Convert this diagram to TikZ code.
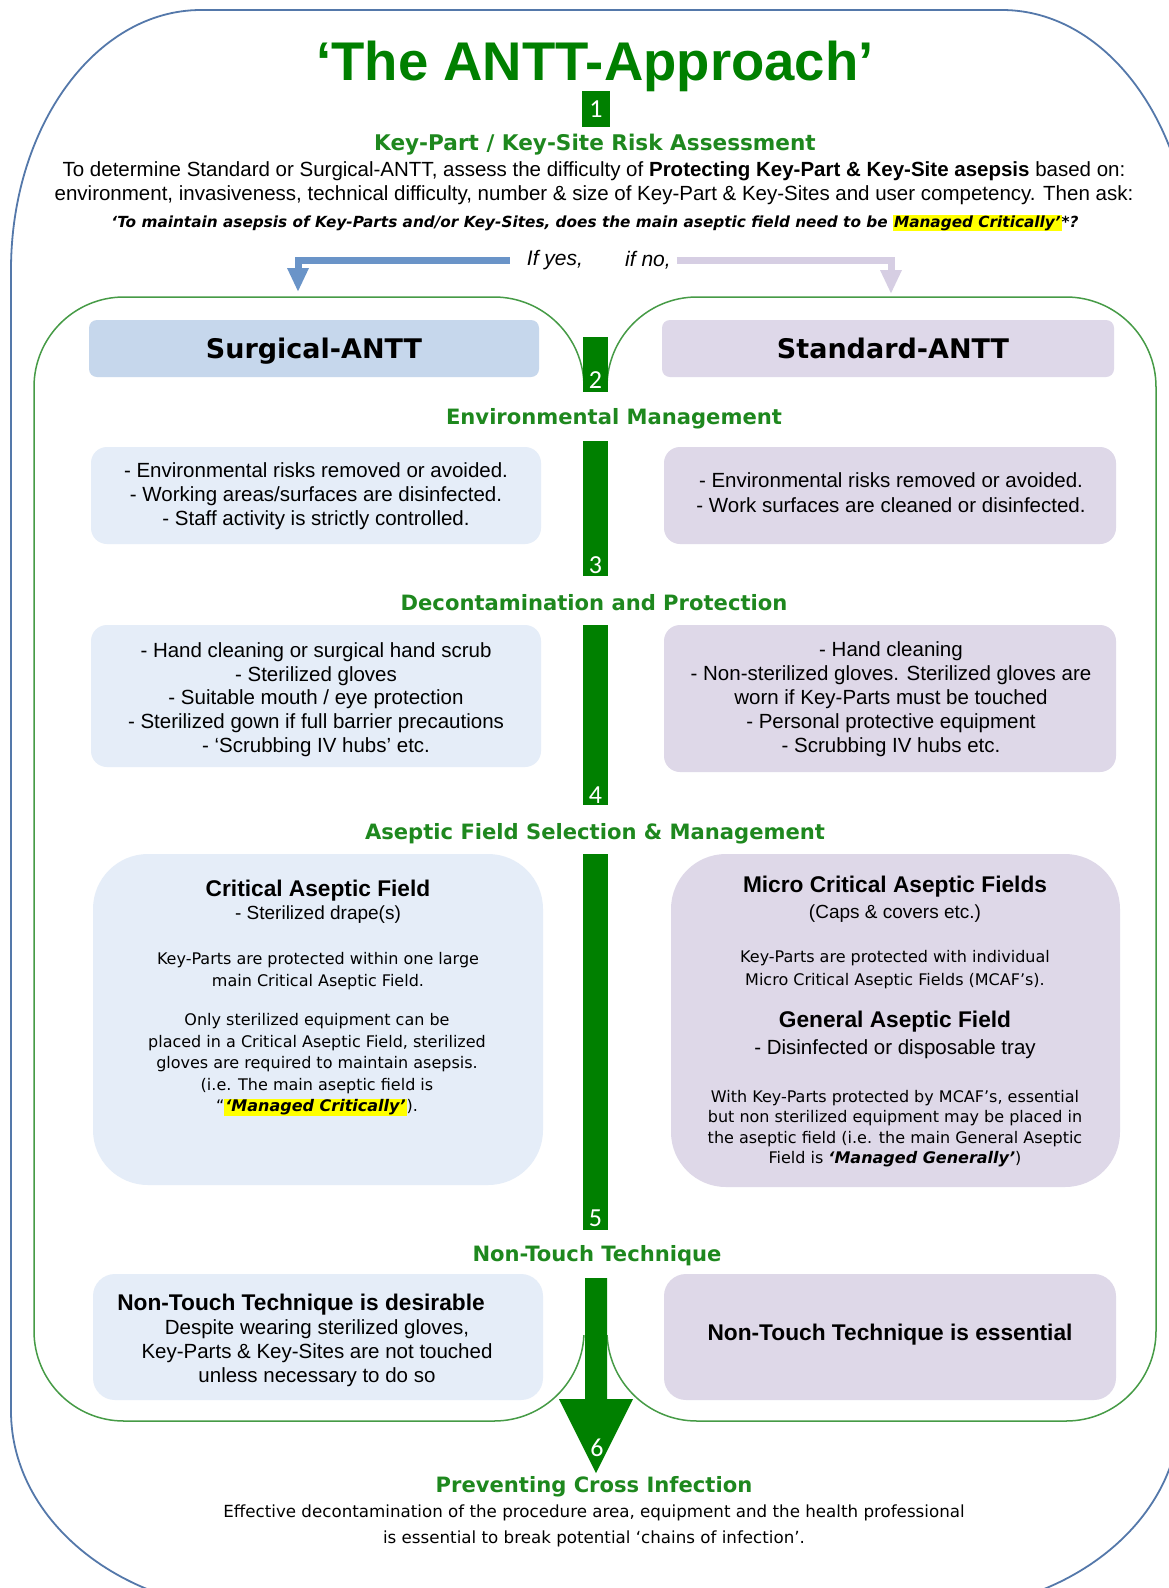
\documentclass[tikz,border=0pt]{standalone}
\usepackage{fontspec}
\setmainfont{Liberation Sans}
\newfontfamily\verd{DejaVu Sans}
\newfontfamily\cali{Carlito}
\usetikzlibrary{arrows.meta}
\definecolor{titlegreen}{RGB}{0,128,0}
\definecolor{headgreen}{RGB}{30,136,30}
\definecolor{bargreen}{RGB}{0,128,0}
\definecolor{outerblue}{RGB}{84,120,170}
\definecolor{panelgreen}{RGB}{70,155,70}
\definecolor{hdrL}{RGB}{198,215,236}
\definecolor{hdrR}{RGB}{222,216,233}
\definecolor{boxL}{RGB}{229,237,248}
\definecolor{boxR}{RGB}{222,216,232}
\definecolor{yesblue}{RGB}{106,148,200}
\definecolor{nolav}{RGB}{214,206,227}
\definecolor{hly}{RGB}{255,255,0}
\newcommand\hilite[1]{{\setlength{\fboxsep}{1pt}\colorbox{hly}{#1}}}
\tikzset{
  heading/.style={font=\verd\bfseries\fontsize{21.1}{24}\selectfont, text=headgreen, inner sep=0pt},
  body/.style={font=\fontsize{20.5}{24}\selectfont, align=center, inner sep=0pt},
  smalltxt/.style={font=\verd\fontsize{16}{21.5}\selectfont, align=center, inner sep=0pt},
  boxtitle/.style={font=\bfseries\fontsize{22.7}{26}\selectfont, inner sep=0pt},
  hdrtxt/.style={font=\verd\bfseries\fontsize{27}{27}\selectfont, inner sep=0pt},
  lbox/.style={fill=boxL, rounded corners=16, inner sep=0pt},
  rbox/.style={fill=boxR, rounded corners=16, inner sep=0pt},
  barseg/.style={fill=bargreen, minimum width=25, inner sep=0pt},
  numlbl/.style={font=\cali\fontsize{26}{26}\selectfont, text=white, inner sep=0pt},
  panel/.style={draw=panelgreen, line width=1.5, rounded corners=90},
}
\begin{document}
\begin{tikzpicture}[x=1pt,y=-1pt]
\useasboundingbox (0,0) rectangle (1169,1588);
\fill[white] (0,0) rectangle (1169,1588);
% outer frame
\draw[outerblue, line width=1.8] (11,1411) -- (11,270) .. controls (11,126) and (96,10) .. (201,10) -- (1002,10) .. controls (1107,10) and (1192,126) .. (1192,270) -- (1180,1411) .. controls (1180,1521.5) and (1068,1611) .. (930,1611) -- (261,1611) .. controls (123,1611) and (11,1521.5) .. (11,1411) -- cycle;
% panels
\draw[panel] (34,297) rectangle (584,1421);
\draw[panel] (607,297) rectangle (1156,1421);
\fill[white] (581,385) rectangle (610,1335);
% title and step 1
\node[font=\bfseries\fontsize{54.5}{54}\selectfont, text=titlegreen, inner sep=0pt] (title) at (595,66) {‘The ANTT-Approach’};
\node[fill=bargreen, minimum width=28, minimum height=36, inner sep=0pt, font=\cali\fontsize{26}{26}\selectfont, text=white] (n1) at (596,109) {1};
\node[heading, font=\verd\bfseries\fontsize{21.6}{24}\selectfont] (hKey) at (595,145) {Key-Part / Key-Site Risk Assessment};
\node[body] (intro) at (594,183) {To determine Standard or Surgical-ANTT, assess the difficulty of \textbf{Protecting Key-Part \& Key-Site asepsis} based on:\\ environment, invasiveness, technical difficulty, number \& size of Key-Part \& Key-Sites and user competency. Then ask:};
\node[font=\verd\bfseries\itshape\fontsize{15.3}{17}\selectfont, inner sep=0pt] (quest) at (595,223) {‘To maintain asepsis of Key-Parts and/or Key-Sites, does the main aseptic field need to be \hilite{Managed Critically’}*?};
% yes / no
\node[font=\itshape\fontsize{21}{21}\selectfont, inner sep=0pt] (yes) at (555,260) {If yes,};
\node[font=\itshape\fontsize{21}{21}\selectfont, inner sep=0pt] (no) at (648,260) {if no,};
\coordinate (yesend) at (298,292);
\coordinate (noend) at (891,294);
\draw[yesblue, line width=7, -{Triangle[width=20pt 0, length=24pt 0]}] ([xshift=-17pt]yes.west) -| (yesend);
\draw[nolav, line width=7, -{Triangle[width=20pt 0, length=24pt 0]}] ([xshift=6pt]no.east) -| (noend);
% headers
\node[fill=hdrL, rounded corners=8, minimum width=450, minimum height=57] (hdrLbox) at (314,348.5) {};
\node[hdrtxt] (surg) at (314,351.5) {Surgical-ANTT};
\node[fill=hdrR, rounded corners=8, minimum width=452, minimum height=57] (hdrRbox) at (888,348.5) {};
\node[hdrtxt] (std) at (893,348.5) {Standard-ANTT};
% content boxes
\node[lbox, minimum width=450, minimum height=97] (envL) at (316,495.5) {};
\node[rbox, minimum width=452, minimum height=97] (envR) at (890,495.5) {};
\node[lbox, minimum width=450, minimum height=142] (decL) at (316,696) {};
\node[rbox, minimum width=452, minimum height=147] (decR) at (890,698.5) {};
\node[lbox, rounded corners=55, minimum width=450, minimum height=331] (aseL) at (318,1019.5) {};
\node[rbox, rounded corners=55, minimum width=449, minimum height=333] (aseR) at (895.5,1020.5) {};
\node[lbox, rounded corners=22, minimum width=450, minimum height=126] (ntL) at (318,1337) {};
\node[rbox, rounded corners=22, minimum width=452, minimum height=126] (ntR) at (890,1337) {};
% green bar
\node[barseg, minimum height=55] (b2) at (595.5,364.5) {};
\node[barseg, minimum height=135] (b3) at (595.5,508.5) {};
\node[barseg, minimum height=180] (b4) at (595.5,715) {};
\node[barseg, minimum height=376] (b5) at (595.5,1042) {};
\node[numlbl] (n2) at (595.5,380) {2};
\node[numlbl] (n3) at (595.5,565) {3};
\node[numlbl] (n4) at (595.5,795) {4};
\node[numlbl] (n5) at (595.5,1218) {5};
% headings
\node[heading] (hEnv) at (614,418.5) {Environmental Management};
\node[heading] (hDec) at (594,602.5) {Decontamination and Protection};
\node[heading] (hAse) at (595,833.5) {Aseptic Field Selection \& Management};
\node[heading] (hNT) at (597,1256) {Non-Touch Technique};
\node[heading] (hPCI) at (594,1487) {Preventing Cross Infection};
% final arrow from Non-Touch Technique to Preventing Cross Infection
\fill[bargreen] (585,1278) -- (607,1278) -- (607,1399) -- (633,1399) -- (596,1473) -- (559,1399) -- (585,1399) -- cycle;
\node[numlbl] (n6) at (597,1448) {6};
% env texts
\node[body] (envLt) at (316,496) {- Environmental risks removed or avoided.\\- Working areas/surfaces are disinfected.\\- Staff activity is strictly controlled.};
\node[body, font=\fontsize{20.5}{25}\selectfont] (envRt) at (891,492.5) {- Environmental risks removed or avoided.\\- Work surfaces are cleaned or disinfected.};
% decon texts
\node[body, font=\fontsize{20.5}{23.7}\selectfont] (decLt) at (316,699.5) {- Hand cleaning or surgical hand scrub\\- Sterilized gloves\\- Suitable mouth / eye protection\\- Sterilized gown if full barrier precautions\\- ‘Scrubbing IV hubs’ etc.};
\node[body] (decRt) at (891,699) {- Hand cleaning\\- Non-sterilized gloves. Sterilized gloves are\\worn if Key-Parts must be touched\\- Personal protective equipment\\- Scrubbing IV hubs etc.};
% aseptic left
\node[boxtitle] (calT) at (318,891) {Critical Aseptic Field};
\node[body, font=\fontsize{19}{22}\selectfont] (calS) at (318,915) {- Sterilized drape(s)};
\node[smalltxt] (calP1) at (318,971) {Key-Parts are protected within one large\\main Critical Aseptic Field.};
\node[smalltxt] (calP2) at (317,1065) {Only sterilized equipment can be\\placed in a Critical Aseptic Field, sterilized\\gloves are required to maintain asepsis.\\(i.e. The main aseptic field is\\“\hilite{\bfseries\itshape ‘Managed Critically’}).};
% aseptic right
\node[boxtitle] (mcafT) at (895,887) {Micro Critical Aseptic Fields};
\node[body, font=\fontsize{19}{22}\selectfont] (mcafS) at (895,914) {(Caps \& covers etc.)};
\node[smalltxt, font=\verd\fontsize{16}{23}\selectfont] (mcafP) at (895,969.5) {Key-Parts are protected with individual\\Micro Critical Aseptic Fields (MCAF’s).};
\node[boxtitle] (gafT) at (895,1022) {General Aseptic Field};
\node[body] (gafS) at (895,1049) {- Disinfected or disposable tray};
\node[smalltxt, font=\verd\fontsize{16}{20.5}\selectfont] (gafP) at (895,1128.5) {With Key-Parts protected by MCAF’s, essential\\but non sterilized equipment may be placed in\\the aseptic field (i.e. the main General Aseptic\\Field is {\bfseries\itshape ‘Managed Generally’})};
% non-touch
\node[boxtitle] (ntLT) at (301,1305) {Non-Touch Technique is desirable};
\node[body] (ntLP) at (317,1353) {Despite wearing sterilized gloves,\\Key-Parts \& Key-Sites are not touched\\unless necessary to do so};
\node[boxtitle] (ntRT) at (890,1335) {Non-Touch Technique is essential};
% bottom
\node[smalltxt, font=\verd\fontsize{16.7}{26}\selectfont] (pci) at (594,1526) {Effective decontamination of the procedure area, equipment and the health professional\\is essential to break potential ‘chains of infection’.};
\end{tikzpicture}
\end{document}
